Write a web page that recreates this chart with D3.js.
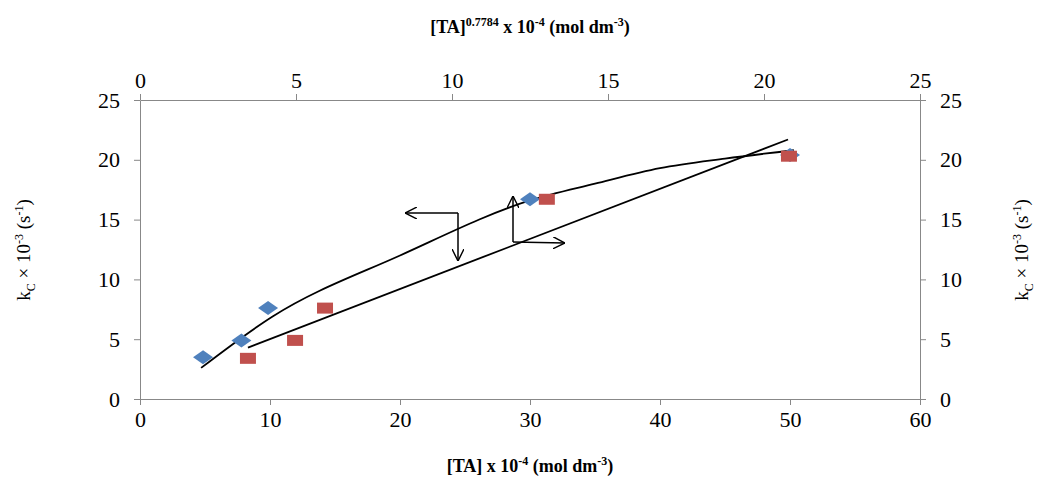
<!DOCTYPE html>
<html><head><meta charset="utf-8">
<script src="https://cdn.jsdelivr.net/npm/d3@7"></script>
<style>body{margin:0;background:#fff}text{font-family:"Liberation Serif","Times New Roman",serif}</style>
</head><body><svg id="c" width="1040" height="499"></svg>
<script>
// blue diamonds: k_C vs [TA] (bottom axis)
const taX = [4.85, 7.8, 9.85, 30, 50];
const kBlue = [3.5, 4.9, 7.6, 16.7, 20.4];
// red squares: k_C vs [TA]^0.7784 (top axis)
const taPowX = [3.46, 4.97, 5.93, 13.04, 20.8];
const kRed = [3.4, 4.9, 7.6, 16.7, 20.3];
// fitted curve (bottom axis) and fitted line (top axis)
const curveX = [4.7, 10.2, 20, 30, 35, 40, 45, 50.3];
const curveY = [2.6, 6.9, 12.0, 16.6, 18.0, 19.3, 20.1, 20.8];
const lineX = [3.46, 20.77];
const lineY = [4.3, 21.7];
const bottomTicks = [0, 10, 20, 30, 40, 50, 60];
const topTicks = [0, 5, 10, 15, 20, 25];
const yTicks = [0, 5, 10, 15, 20, 25];

const svg = d3.select("#c");
const x = d3.scaleLinear().domain([0, 60]).range([140, 920]);
const xt = d3.scaleLinear().domain([0, 25]).range([140, 920]);
const y = d3.scaleLinear().domain([0, 25]).range([399, 100]);

function styleAxis(g) {
  g.selectAll("path,line").attr("stroke", "#888");
  g.selectAll("text").attr("font-size", 22).attr("fill", "#000").style("font-family", "Liberation Serif");
}
svg.append("g").attr("transform", "translate(0,399)")
  .call(d3.axisBottom(x).tickValues(bottomTicks).tickSize(6).tickSizeOuter(0).tickPadding(6)).call(styleAxis);
svg.append("g").attr("transform", "translate(0,100)")
  .call(d3.axisTop(xt).tickValues(topTicks).tickSize(6).tickSizeOuter(0).tickPadding(6)).call(styleAxis);
svg.append("g").attr("transform", "translate(140,0)")
  .call(d3.axisLeft(y).tickValues(yTicks).tickSize(6).tickSizeOuter(0).tickPadding(14)).call(styleAxis);
svg.append("g").attr("transform", "translate(920,0)")
  .call(d3.axisRight(y).tickValues(yTicks).tickSize(6).tickSizeOuter(0).tickPadding(14)).call(styleAxis);

const ln = d3.line();
svg.append("path").attr("d", d3.line().curve(d3.curveMonotoneX)(curveX.map((v, i) => [x(v), y(curveY[i])])))
  .attr("fill", "none").attr("stroke", "#000").attr("stroke-width", 1.8);
svg.append("path").attr("d", ln(lineX.map((v, i) => [xt(v), y(lineY[i])])))
  .attr("fill", "none").attr("stroke", "#000").attr("stroke-width", 1.8);

svg.selectAll(".d").data(taX).join("path")
  .attr("d", "M-10,0L0,-7L10,0L0,7Z")
  .attr("transform", (d, i) => `translate(${x(d)},${y(kBlue[i])})`)
  .attr("fill", "#4f81bd");
svg.selectAll(".s").data(taPowX).join("rect")
  .attr("x", d => xt(d) - 8).attr("y", (d, i) => y(kRed[i]) - 5.5)
  .attr("width", 16).attr("height", 11).attr("fill", "#c0504d");

// arrows
const defs = svg.append("defs");
defs.append("marker").attr("id", "ah").attr("viewBox", "0 0 10 10").attr("refX", 10).attr("refY", 5)
  .attr("markerWidth", 12).attr("markerHeight", 12).attr("markerUnits", "userSpaceOnUse").attr("orient", "auto")
  .append("path").attr("d", "M0,0L10,5L0,10").attr("fill", "none").attr("stroke", "#000").attr("stroke-width", 1.2);
const arrows = [
  [[458, 213], [405, 213]],
  [[458, 213], [458, 261]],
  [[513, 242], [513, 196]],
  [[513, 242], [565, 243]]
];
arrows.forEach(a => svg.append("path").attr("d", ln(a))
  .attr("stroke", "#000").attr("stroke-width", 1.5).attr("marker-end", "url(#ah)"));

svg.append("text").attr("x", 530).attr("y", 472).attr("text-anchor", "middle").attr("font-size", 18).attr("font-weight", "bold")
  .html('[TA] x 10<tspan dy="-7" font-size="12">-4</tspan><tspan dy="7"> (mol dm</tspan><tspan dy="-7" font-size="12">-3</tspan><tspan dy="7">)</tspan>');
svg.append("text").attr("x", 530).attr("y", 33).attr("text-anchor", "middle").attr("font-size", 18).attr("font-weight", "bold")
  .html('[TA]<tspan dy="-7" font-size="12">0.7784</tspan><tspan dy="7"> x 10</tspan><tspan dy="-7" font-size="12">-4</tspan><tspan dy="7"> (mol dm</tspan><tspan dy="-7" font-size="12">-3</tspan><tspan dy="7">)</tspan>');
[[30, 250], [1028, 250]].forEach(p => svg.append("text")
  .attr("transform", `translate(${p[0]},${p[1]}) rotate(-90)`).attr("text-anchor", "middle").attr("font-size", 19)
  .html('k<tspan dy="5" font-size="12">C</tspan><tspan dy="-5"> × 10</tspan><tspan dy="-7" font-size="12">-3</tspan><tspan dy="7"> (s</tspan><tspan dy="-7" font-size="12">-1</tspan><tspan dy="7">)</tspan>'));
</script></body></html>
